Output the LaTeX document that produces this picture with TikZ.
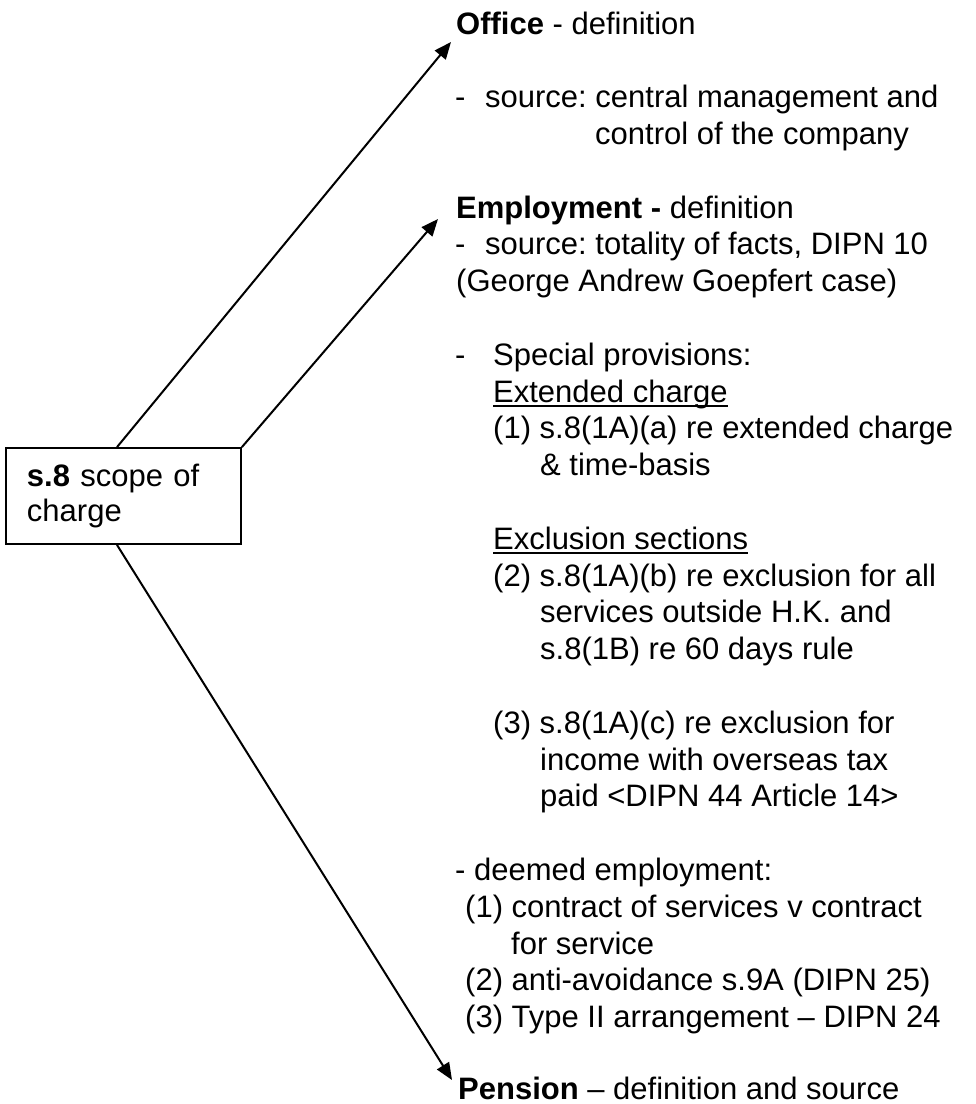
\documentclass[tikz,border=0pt]{standalone}
\usepackage{fontspec}
\setmainfont{Liberation Sans}
\usetikzlibrary{arrows.meta,calc}
\newcommand\myul[1]{\setbox0\hbox{#1}\rlap{\rule[-5pt]{\wd0}{1.8pt}}\box0}
\newcommand\dashtab[1]{\makebox[#1][l]{-}}
\frenchspacing
\begin{document}
\begin{tikzpicture}[x=1pt,y=1pt,
  txt/.style={anchor=base west,inner sep=0pt,font=\fontsize{31}{36.8}\selectfont},
  conn/.style={line width=2pt,-{Triangle[length=17pt,width=14pt]}},
  boxstyle/.style={draw,line width=1.8pt,minimum width=235pt,minimum height=96pt,
    text width=193pt,align=left,inner xsep=21pt,inner ysep=0pt,
    font=\fontsize{31}{35.5}\selectfont}]
\useasboundingbox (0,0) rectangle (976,-1104);
% central box
\node[boxstyle] (box) at (123.5,-496) {\textbf{s.8} scope of\\charge};
% arrow tips
\coordinate (tipOffice) at (451,-42);
\coordinate (tipEmp) at (438,-219);
\coordinate (tipPension) at (452,-1080);
\draw[conn] ([xshift=-6.5pt]box.north) -- (tipOffice);
\draw[conn] (box.north east) -- (tipEmp);
\draw[conn] ([xshift=-6.5pt]box.south) -- (tipPension);
% Office
\node[txt] (l00) at (456,-34) {\textbf{Office} - definition};
\node[txt] (l02) at (455,-107.6) {\dashtab{30pt}source: central management and};
\node[txt] (l03) at (595,-144.4) {control of the company};
% Employment
\node[txt] (l05) at (456,-218) {\textbf{Employment -} definition};
\node[txt] (l06) at (455,-254.8) {\dashtab{30pt}source: totality of facts, DIPN 10};
\node[txt] (l07) at (456,-291.6) {(George Andrew Goepfert case)};
\node[txt] (l09) at (455,-365.2) {\dashtab{38pt}Special provisions:};
\node[txt] (l10) at (493,-402) {\myul{Extended charge}};
\node[txt] (l11) at (493,-438.8) {(1) s.8(1A)(a) re extended charge};
\node[txt] (l12) at (540,-475.6) {\& time-basis};
\node[txt] (l14) at (493,-549.2) {\myul{Exclusion sections}};
\node[txt] (l15) at (493,-586) {(2) s.8(1A)(b) re exclusion for all};
\node[txt] (l16) at (540,-622.8) {services outside H.K. and};
\node[txt] (l17) at (540,-659.6) {s.8(1B) re 60 days rule};
\node[txt] (l19) at (493,-733.2) {(3) s.8(1A)(c) re exclusion for};
\node[txt] (l20) at (540,-770) {income with overseas tax};
\node[txt] (l21) at (540,-806.8) {paid <DIPN 44 Article 14>};
\node[txt] (l23) at (455,-880.4) {- deemed employment:};
\node[txt] (l24) at (465,-917.2) {(1) contract of services v contract};
\node[txt] (l25) at (511,-954) {for service};
\node[txt] (l26) at (465,-990.8) {(2) anti-avoidance s.9A (DIPN 25)};
\node[txt] (l27) at (465,-1027.6) {(3) Type II arrangement – DIPN 24};
% Pension
\node[txt] (l29) at (458,-1099.5) {\textbf{Pension} – definition and source};
\end{tikzpicture}
\end{document}
